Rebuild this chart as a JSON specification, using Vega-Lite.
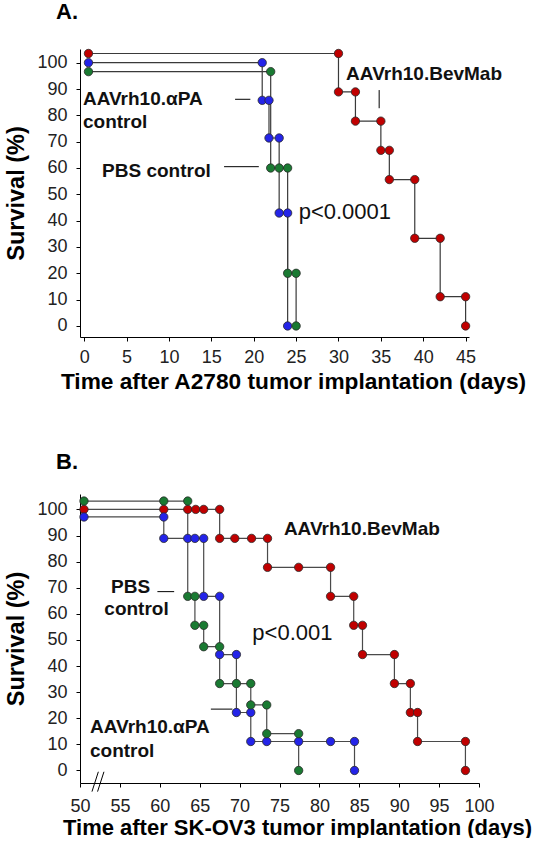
{
  "$schema": "https://vega.github.io/schema/vega-lite/v6.json",
  "background": "white",
  "padding": {"left": 4, "top": 0, "right": 0, "bottom": 0},
  "spacing": 58,
  "config": {
    "font": "Liberation Sans",
    "view": {"stroke": null},
    "axis": {
      "grid": false,
      "domainColor": "#000",
      "domainWidth": 1,
      "tickColor": "#000",
      "tickWidth": 1,
      "tickSize": 4,
      "labelFont": "Liberation Sans",
      "labelFontSize": 18,
      "labelColor": "#222",
      "titleFont": "Liberation Sans",
      "titleFontSize": 22,
      "titleFontWeight": "bold",
      "titleColor": "#000"
    },
    "title": {"font": "Liberation Sans", "fontSize": 22, "fontWeight": "bold", "anchor": "start", "frame": "group", "color": "#000"}
  },
  "datasets": {
    "a": [
      {"g": "BevMab", "i": 0, "day": 0.5, "surv": 103.5},
      {"g": "BevMab", "i": 1, "day": 30, "surv": 103.5},
      {"g": "BevMab", "i": 2, "day": 30, "surv": 88.9},
      {"g": "BevMab", "i": 3, "day": 32, "surv": 88.9},
      {"g": "BevMab", "i": 4, "day": 32, "surv": 77.8},
      {"g": "BevMab", "i": 5, "day": 35, "surv": 77.8},
      {"g": "BevMab", "i": 6, "day": 35, "surv": 66.7},
      {"g": "BevMab", "i": 7, "day": 36, "surv": 66.7},
      {"g": "BevMab", "i": 8, "day": 36, "surv": 55.6},
      {"g": "BevMab", "i": 9, "day": 39, "surv": 55.6},
      {"g": "BevMab", "i": 10, "day": 39, "surv": 33.3},
      {"g": "BevMab", "i": 11, "day": 42, "surv": 33.3},
      {"g": "BevMab", "i": 12, "day": 42, "surv": 11.1},
      {"g": "BevMab", "i": 13, "day": 45, "surv": 11.1},
      {"g": "BevMab", "i": 14, "day": 45, "surv": 0},
      {"g": "aPA", "i": 0, "day": 0.5, "surv": 100},
      {"g": "aPA", "i": 1, "day": 21, "surv": 100},
      {"g": "aPA", "i": 2, "day": 21, "surv": 85.7},
      {"g": "aPA", "i": 3, "day": 21.8, "surv": 85.7},
      {"g": "aPA", "i": 4, "day": 21.8, "surv": 71.4},
      {"g": "aPA", "i": 5, "day": 23, "surv": 71.4},
      {"g": "aPA", "i": 6, "day": 23, "surv": 42.9},
      {"g": "aPA", "i": 7, "day": 24, "surv": 42.9},
      {"g": "aPA", "i": 8, "day": 24, "surv": 0},
      {"g": "PBS", "i": 0, "day": 0.5, "surv": 96.6},
      {"g": "PBS", "i": 1, "day": 22, "surv": 96.6},
      {"g": "PBS", "i": 2, "day": 22, "surv": 60},
      {"g": "PBS", "i": 3, "day": 23, "surv": 60},
      {"g": "PBS", "i": 4, "day": 24, "surv": 60},
      {"g": "PBS", "i": 5, "day": 24, "surv": 20},
      {"g": "PBS", "i": 6, "day": 25, "surv": 20},
      {"g": "PBS", "i": 7, "day": 25, "surv": 0}
    ],
    "b": [
      {"g": "BevMab", "i": 0, "day": 50.5, "surv": 100},
      {"g": "BevMab", "i": 1, "day": 60.5, "surv": 100},
      {"g": "BevMab", "i": 2, "day": 63.5, "surv": 100},
      {"g": "BevMab", "i": 3, "day": 64.5, "surv": 100},
      {"g": "BevMab", "i": 4, "day": 65.5, "surv": 100},
      {"g": "BevMab", "i": 5, "day": 67.5, "surv": 100},
      {"g": "BevMab", "i": 6, "day": 67.5, "surv": 88.9},
      {"g": "BevMab", "i": 7, "day": 69.4, "surv": 88.9},
      {"g": "BevMab", "i": 8, "day": 71.5, "surv": 88.9},
      {"g": "BevMab", "i": 9, "day": 73.5, "surv": 88.9},
      {"g": "BevMab", "i": 10, "day": 73.5, "surv": 77.8},
      {"g": "BevMab", "i": 11, "day": 77.4, "surv": 77.8},
      {"g": "BevMab", "i": 12, "day": 81.4, "surv": 77.8},
      {"g": "BevMab", "i": 13, "day": 81.4, "surv": 66.7},
      {"g": "BevMab", "i": 14, "day": 84.3, "surv": 66.7},
      {"g": "BevMab", "i": 15, "day": 84.3, "surv": 55.6},
      {"g": "BevMab", "i": 16, "day": 85.4, "surv": 55.6},
      {"g": "BevMab", "i": 17, "day": 85.4, "surv": 44.4},
      {"g": "BevMab", "i": 18, "day": 89.4, "surv": 44.4},
      {"g": "BevMab", "i": 19, "day": 89.4, "surv": 33.3},
      {"g": "BevMab", "i": 20, "day": 91.4, "surv": 33.3},
      {"g": "BevMab", "i": 21, "day": 91.4, "surv": 22.2},
      {"g": "BevMab", "i": 22, "day": 92.3, "surv": 22.2},
      {"g": "BevMab", "i": 23, "day": 92.3, "surv": 11.1},
      {"g": "BevMab", "i": 24, "day": 98.3, "surv": 11.1},
      {"g": "BevMab", "i": 25, "day": 98.3, "surv": 0},
      {"g": "aPA", "i": 0, "day": 50.5, "surv": 97.1},
      {"g": "aPA", "i": 1, "day": 60.5, "surv": 97.1},
      {"g": "aPA", "i": 2, "day": 60.5, "surv": 88.9},
      {"g": "aPA", "i": 3, "day": 63.5, "surv": 88.9},
      {"g": "aPA", "i": 4, "day": 64.4, "surv": 88.9},
      {"g": "aPA", "i": 5, "day": 65.5, "surv": 88.9},
      {"g": "aPA", "i": 6, "day": 65.5, "surv": 66.7},
      {"g": "aPA", "i": 7, "day": 67.5, "surv": 66.7},
      {"g": "aPA", "i": 8, "day": 67.5, "surv": 44.4},
      {"g": "aPA", "i": 9, "day": 69.6, "surv": 44.4},
      {"g": "aPA", "i": 10, "day": 69.6, "surv": 22.2},
      {"g": "aPA", "i": 11, "day": 71.4, "surv": 22.2},
      {"g": "aPA", "i": 12, "day": 71.4, "surv": 11.1},
      {"g": "aPA", "i": 13, "day": 73.4, "surv": 11.1},
      {"g": "aPA", "i": 14, "day": 77.4, "surv": 11.1},
      {"g": "aPA", "i": 15, "day": 81.4, "surv": 11.1},
      {"g": "aPA", "i": 16, "day": 84.4, "surv": 11.1},
      {"g": "aPA", "i": 17, "day": 84.4, "surv": 0},
      {"g": "PBS", "i": 0, "day": 50.5, "surv": 103.2},
      {"g": "PBS", "i": 1, "day": 60.5, "surv": 103.2},
      {"g": "PBS", "i": 2, "day": 63.5, "surv": 103.2},
      {"g": "PBS", "i": 3, "day": 63.5, "surv": 66.7},
      {"g": "PBS", "i": 4, "day": 64.4, "surv": 66.7},
      {"g": "PBS", "i": 5, "day": 64.4, "surv": 55.6},
      {"g": "PBS", "i": 6, "day": 65.5, "surv": 55.6},
      {"g": "PBS", "i": 7, "day": 65.5, "surv": 47.4},
      {"g": "PBS", "i": 8, "day": 67.5, "surv": 47.4},
      {"g": "PBS", "i": 9, "day": 67.5, "surv": 33.3},
      {"g": "PBS", "i": 10, "day": 69.6, "surv": 33.3},
      {"g": "PBS", "i": 11, "day": 71.4, "surv": 33.3},
      {"g": "PBS", "i": 12, "day": 71.4, "surv": 25.1},
      {"g": "PBS", "i": 13, "day": 73.4, "surv": 25.1},
      {"g": "PBS", "i": 14, "day": 73.4, "surv": 14.1},
      {"g": "PBS", "i": 15, "day": 77.4, "surv": 14.1},
      {"g": "PBS", "i": 16, "day": 77.4, "surv": 0}
    ],
    "a_txt": [
      {"label": "AAVrh10.αPA", "day": -0.15, "surv": 86.1},
      {"label": "control", "day": -0.15, "surv": 77.6},
      {"label": "PBS control", "day": 2.1, "surv": 58.9},
      {"label": "AAVrh10.BevMab", "day": 30.9, "surv": 95.7}
    ],
    "a_p": [{"label": "p<0.0001", "day": 25.3, "surv": 43.3}],
    "a_rule": [
      {"day": 17.8, "day2": 19.6, "surv": 86.1, "surv2": 86.1},
      {"day": 16.5, "day2": 20.6, "surv": 60.5, "surv2": 60.5},
      {"day": 34.8, "day2": 34.8, "surv": 89.6, "surv2": 82.7}
    ],
    "b_txt": [
      {"label": "AAVrh10.BevMab", "day": 75.55, "surv": 92.5},
      {"label": "PBS", "day": 53.9, "surv": 70.4},
      {"label": "control", "day": 53.05, "surv": 61.7},
      {"label": "AAVrh10.αPA", "day": 51.25, "surv": 16.8},
      {"label": "control", "day": 51.25, "surv": 7.3}
    ],
    "b_p": [{"label": "p<0.001", "day": 71.6, "surv": 52.6}],
    "b_rule": [
      {"day": 59.7, "day2": 61.8, "surv": 68.5, "surv2": 68.5},
      {"day": 66.4, "day2": 69.1, "surv": 23.5, "surv2": 23.5},
      {"day": 51.5, "day2": 52.3, "surv": -8.1, "surv2": -0.5},
      {"day": 52.2, "day2": 53.0, "surv": -8.1, "surv2": -0.5}
    ]
  },
  "vconcat": [
    {
      "width": 389,
      "height": 288,
      "title": {"text": "A.", "dx": -24, "offset": 24},
      "encoding": {
        "x": {"field": "day", "type": "quantitative",
          "scale": {"domain": [-0.5, 45.4], "nice": false, "zero": false},
          "axis": {"values": [0, 5, 10, 15, 20, 25, 30, 35, 40, 45], "title": "Time after A2780 tumor implantation (days)", "titleFontSize": 22.7, "labelPadding": 7, "titlePadding": 4, "titleX": 213, "labelFlush": false}},
        "y": {"field": "surv", "type": "quantitative",
          "scale": {"domain": [-4.2, 105.2], "nice": false, "zero": false},
          "axis": {"values": [0, 10, 20, 30, 40, 50, 60, 70, 80, 90, 100], "title": "Survival (%)", "titleFontSize": 23.5, "labelPadding": 9, "titlePadding": 8, "labelFlush": false}}
      },
      "layer": [
        {"data": {"name": "a"}, "mark": {"type": "line", "color": "#3a3a3a", "strokeWidth": 1.2},
          "encoding": {"detail": {"field": "g"}, "order": {"field": "i"}}},
        {"data": {"name": "a"}, "mark": {"type": "circle", "size": 70, "opacity": 1, "stroke": "#2a2a2a", "strokeWidth": 0.8},
          "encoding": {"color": {"field": "g", "type": "nominal", "scale": {"domain": ["BevMab", "aPA", "PBS"], "range": ["#c00000", "#2424e8", "#1a7a32"]}, "legend": null}}},
        {"data": {"name": "a_rule"}, "mark": {"type": "rule", "color": "#000", "strokeWidth": 1},
          "encoding": {"x2": {"field": "day2"}, "y2": {"field": "surv2"}}},
        {"data": {"name": "a_txt"}, "mark": {"type": "text", "align": "left", "baseline": "middle", "fontSize": 19, "fontWeight": "bold", "color": "#111"},
          "encoding": {"text": {"field": "label"}}},
        {"data": {"name": "a_p"}, "mark": {"type": "text", "align": "left", "baseline": "middle", "fontSize": 22, "color": "#111"},
          "encoding": {"text": {"field": "label"}}}
      ]
    },
    {
      "width": 399,
      "height": 289,
      "title": {"text": "B.", "dx": -24, "offset": 20},
      "encoding": {
        "x": {"field": "day", "type": "quantitative",
          "scale": {"domain": [50, 100], "nice": false, "zero": false},
          "axis": {"values": [50, 55, 60, 65, 70, 75, 80, 85, 90, 95, 100], "title": "Time after SK-OV3 tumor implantation (days)", "labelPadding": 10, "titlePadding": 2, "titleX": 217, "labelFlush": false}},
        "y": {"field": "surv", "type": "quantitative",
          "scale": {"domain": [-4.8, 105.9], "nice": false, "zero": false},
          "axis": {"values": [0, 10, 20, 30, 40, 50, 60, 70, 80, 90, 100], "title": "Survival (%)", "titleFontSize": 23.5, "labelPadding": 9, "titlePadding": 8, "labelFlush": false}}
      },
      "layer": [
        {"data": {"name": "b"}, "mark": {"type": "line", "color": "#4a4a4a", "strokeWidth": 1.2},
          "encoding": {"detail": {"field": "g"}, "order": {"field": "i"}}},
        {"data": {"name": "b"}, "mark": {"type": "circle", "size": 70, "opacity": 1, "stroke": "#2a2a2a", "strokeWidth": 0.8},
          "encoding": {"color": {"field": "g", "type": "nominal", "scale": {"domain": ["BevMab", "aPA", "PBS"], "range": ["#c00000", "#2424e8", "#1a7a32"]}, "legend": null}}},
        {"data": {"name": "b_rule"}, "mark": {"type": "rule", "color": "#000", "strokeWidth": 1},
          "encoding": {"x2": {"field": "day2"}, "y2": {"field": "surv2"}}},
        {"data": {"name": "b_txt"}, "mark": {"type": "text", "align": "left", "baseline": "middle", "fontSize": 19, "fontWeight": "bold", "color": "#111"},
          "encoding": {"text": {"field": "label"}}},
        {"data": {"name": "b_p"}, "mark": {"type": "text", "align": "left", "baseline": "middle", "fontSize": 22, "color": "#111"},
          "encoding": {"text": {"field": "label"}}}
      ]
    }
  ]
}
